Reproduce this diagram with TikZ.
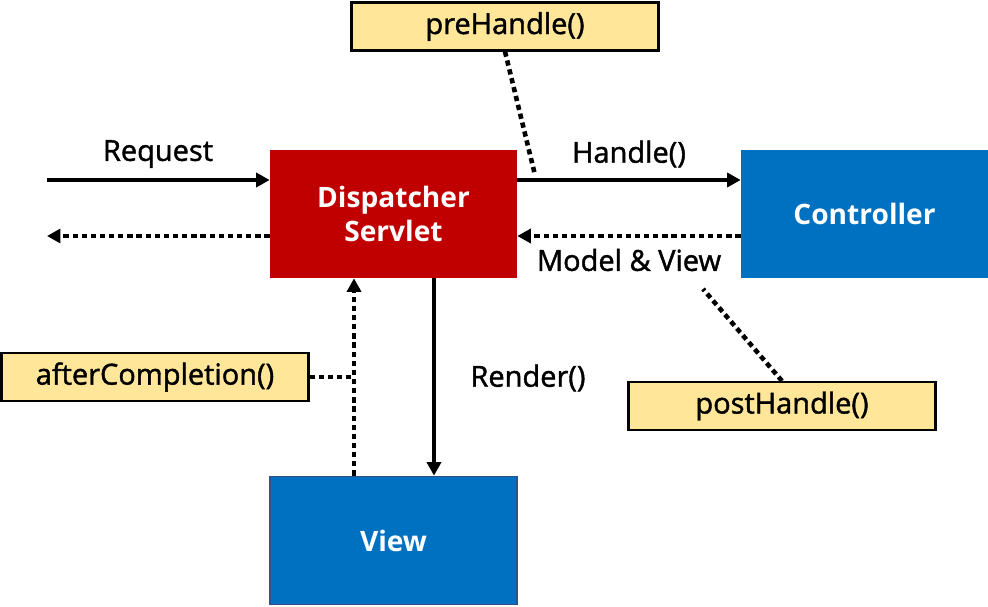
\documentclass[tikz,border=0pt]{standalone}
\usepackage{fontspec}
\setmainfont{Open Sans}
\newfontfamily\medfont{Open Sans}[FakeBold=1.4]
\usetikzlibrary{arrows.meta}

\definecolor{srvred}{HTML}{C00000}
\definecolor{ctlblue}{HTML}{0070C0}
\definecolor{viewedge}{HTML}{2F528F}
\definecolor{hookyellow}{HTML}{FFE699}

\tikzset{
  comp/.style={minimum width=4.94cm, minimum height=2.56cm, text=white, inner sep=0pt,
    font=\fontsize{16}{19.5}\selectfont\bfseries, align=center},
  hook/.style={draw=black, line width=1.2pt, fill=hookyellow, minimum width=6.14cm,
    minimum height=0.96cm, inner sep=0pt, font=\fontsize{16.5}{19.5}\medfont},
  flow/.style={line width=2.6pt, -{Triangle[length=0.27cm,width=0.28cm]}},
  back/.style={flow, dash pattern=on 3pt off 2.2pt},
  link/.style={line width=2.6pt, dash pattern=on 3pt off 2.2pt},
  lbl/.style={inner sep=0pt, font=\fontsize{16.5}{19.5}\medfont}
}

\begin{document}
\begin{tikzpicture}[x=0.02cm, y=0.02cm]
  \useasboundingbox (0,0) rectangle (988,606);

  % components
  \node[comp, fill=srvred] (disp) at (393.5,392) {Dispatcher\\Servlet};
  \node[comp, fill=ctlblue] (ctrl) at (864.5,392) {Controller};
  \node[comp, fill=ctlblue, draw=viewedge, line width=1pt] (view) at (393.5,65.5) {View};

  % interceptor hooks
  \node[hook] (pre) at (505,579.5) {preHandle()};
  \node[hook] (after) at (155,229) {afterCompletion()};
  \node[hook] (post) at (782,200) {postHandle()};

  \coordinate (in) at (47,426);
  \coordinate (out) at (47,370);

  % request / response
  \draw[flow] (in) -- (in -| disp.west);
  \draw[back] (out -| disp.west) -- (out);
  \draw[flow] (disp.east |- in) -- (ctrl.west |- in);
  \draw[back] (ctrl.west |- out) -- (disp.east |- out);
  \draw[flow] ([xshift=0.81cm]disp.south) -- ([xshift=0.81cm]view.north);
  \draw[back] ([xshift=-0.79cm]view.north) -- ([xshift=-0.79cm]disp.south);

  % hook links
  \coordinate (prehit) at (535,431);
  \coordinate (afterhit) at (354,229);
  \coordinate (posthit) at (703,317);
  \draw[link] (pre.south) -- (prehit);
  \draw[link] (after.east) -- (afterhit);
  \draw[link] (post.north) -- (posthit);

  % labels
  \node[lbl] (reqlbl) at (158,452) {Request};
  \node[lbl] (handlbl) at (629,452) {Handle()};
  \node[lbl] (mvlbl) at (629,346) {Model \& View};
  \node[lbl] (rendlbl) at (528,228) {Render()};
\end{tikzpicture}
\end{document}
